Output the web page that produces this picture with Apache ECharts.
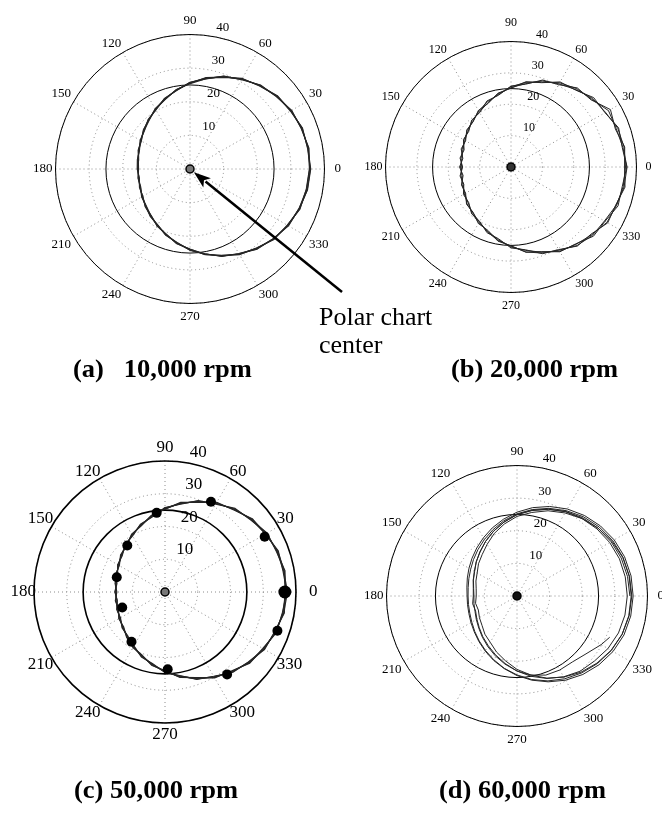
<!DOCTYPE html>
<html><head><meta charset="utf-8">
<script src="https://cdn.jsdelivr.net/npm/echarts@6/dist/echarts.min.js"></script>
<style>html,body{margin:0;padding:0;background:#fff}#c{width:662px;height:815px}</style>
</head><body><div id="c"></div>
<script>
// ---- tick labels ----
const ANGLE_TICKS = ['0','30','60','90','120','150','180','210','240','270','300','330'];
const RADIUS_TICKS = ['10','20','30','40'];
const REF_CIRCLE = 25;          // solid reference circle value
const R_MAX = 40;

// ---- sample angles (degrees) ----
const ANGLES = [0,10,20,30,40,50,60,70,80,90,100,110,120,130,140,150,160,170,
                180,190,200,210,220,230,240,250,260,270,280,290,300,310,320,330,340,350];
const ANGLES_D5 = [0,10,20,30,40,50,60,70,80,90,100,110,120,130,140,150,160,170,
                180,190,200,210,220,230,240,250,260,270,280,290,300,310,320,330,336];

// ---- (a) 10,000 rpm ----
const a1 = [35.9,35.6,35.5,34.6,33.9,32.3,31.0,29.1,27.6,25.5,23.9,22.0,20.7,19.0,18.1,16.8,16.4,15.6,15.3,15.7,15.7,16.6,17.1,18.4,19.3,21.0,22.3,24.2,25.6,27.7,29.1,31.1,32.3,33.8,34.5,35.5];
const a2 = [35.5,35.9,35.2,34.9,33.5,32.6,30.7,29.4,27.2,25.8,23.6,22.3,20.3,19.3,17.7,17.1,16.0,15.9,15.7,15.3,16.0,16.2,17.4,18.0,19.6,20.6,22.6,23.8,25.9,27.3,29.4,30.7,32.6,33.4,34.8,35.1];
const a3 = [35.8,35.5,35.6,34.5,33.8,32.2,31.1,29.0,27.5,25.7,23.7,22.2,20.4,19.2,18.0,16.7,16.3,15.5,15.6,15.4,15.9,16.3,17.3,18.3,19.2,20.9,22.2,24.1,25.8,27.4,29.3,30.8,32.5,33.5,34.7,35.4];
const a4 = [35.6,35.8,35.3,34.8,33.6,32.5,30.8,29.3,27.3,25.4,23.9,21.9,20.6,18.9,17.8,17.0,16.1,15.8,15.4,15.6,15.6,16.5,17.0,18.1,19.5,20.7,22.5,23.9,25.6,27.6,29.0,31.0,32.3,33.7,34.5,35.2];

// ---- (b) 20,000 rpm ----
const b1 = [36.9,36.0,36.5,34.6,34.4,32.0,31.3,28.6,27.6,25.1,23.9,21.5,20.8,18.8,18.4,16.7,16.9,15.6,16.4,15.5,16.8,16.7,18.5,18.8,20.8,21.5,24.0,25.1,27.6,28.7,31.2,32.0,34.3,34.6,36.3,36.0];
const b2 = [36.2,36.8,35.4,36.6,33.3,32.9,30.3,29.5,26.8,25.8,23.2,22.4,20.0,19.5,17.6,17.5,15.9,16.5,15.4,16.5,16.0,17.5,17.6,19.5,20.0,22.3,23.2,25.8,26.8,29.4,30.4,32.9,33.3,35.6,35.5,36.9];
const b3 = [37.0,36.2,35.7,35.9,33.6,32.6,31.0,28.8,27.4,25.6,23.4,22.1,20.6,18.9,18.2,16.9,16.6,15.8,16.1,15.8,16.6,16.9,18.3,19.0,20.2,22.0,23.8,25.2,27.5,29.2,30.6,32.7,33.9,34.4,35.7,36.6];
const b4 = [36.5,36.6,36.2,34.8,34.0,32.2,30.6,29.2,27.0,25.3,23.7,21.7,20.2,19.3,17.8,17.3,16.2,16.2,15.7,16.2,16.2,17.2,17.8,19.3,20.5,21.8,23.5,25.5,27.0,28.9,31.0,32.2,33.6,35.3,35.8,36.3];

// ---- (c) 50,000 rpm ----
const c1 = [37.2,36.6,36.8,35.4,34.8,32.7,31.6,29.1,27.8,25.3,23.8,21.4,20.4,18.3,17.7,16.1,16.0,14.9,15.3,14.8,15.7,15.7,17.1,17.6,19.6,20.5,22.8,24.0,26.5,27.8,30.3,31.5,33.8,34.5,36.2,36.4];
const c2 = [36.7,37.2,36.2,36.0,34.2,33.3,31.0,29.7,27.2,25.8,23.2,22.0,19.8,18.9,17.1,16.7,15.4,15.5,14.7,15.4,15.1,16.3,16.5,18.2,19.0,21.1,22.2,24.6,25.9,28.4,29.7,32.1,33.2,35.1,35.6,37.0];
const c3 = [37.4,36.8,36.4,35.8,34.6,32.9,31.4,29.3,27.6,25.4,23.6,21.6,20.2,18.5,17.5,16.3,15.8,15.1,15.2,14.9,15.5,15.9,16.9,17.8,19.4,20.7,22.6,24.2,26.3,28.0,30.1,31.7,33.6,34.9,35.8,36.8];
const c4 = [36.8,37.0,36.6,35.5,34.4,33.1,31.2,29.5,27.4,25.6,23.4,21.8,20.0,18.7,17.3,16.5,15.6,15.3,14.9,15.2,15.3,16.1,16.7,18.0,19.2,20.9,22.4,24.4,26.1,28.2,29.9,31.9,33.4,34.7,36.0,36.6];
const cMarkR   = [36.6,34.8,30.9,24.3,18.3,15.4,13.9,18.3,23.6,31.5,36.3];
const cMarkAng = [0,29,63,96,129,163,200,236,272,307,341];

// ---- (d) 60,000 rpm ----
const d1 = [35.6,35.5,35.1,34.4,33.4,32.2,30.8,29.2,27.5,25.7,23.9,22.2,20.6,19.2,18.0,17.0,16.2,15.6,15.3,15.4,15.7,16.3,17.1,18.2,19.5,21.0,22.6,24.4,26.2,28.0,29.8,31.4,32.8,34.0,34.9,35.4];
const d2 = [35.2,35.0,34.5,33.6,32.4,31.0,29.4,27.8,26.0,24.4,22.4,20.4,18.3,16.6,15.4,14.1,13.4,12.7,12.5,12.9,12.6,13.3,14.0,15.3,16.4,18.3,20.2,22.5,24.6,26.8,28.7,30.5,32.0,33.3,34.3,34.9];
const d3 = [33.8,33.7,33.4,32.8,32.0,31.0,29.8,28.3,26.7,25.0,23.0,21.1,19.3,17.6,16.3,15.0,14.3,13.6,13.4,13.8,13.5,14.2,15.1,16.3,17.6,19.2,21.0,23.0,25.0,26.9,28.6,30.1,31.0,32.2,33.1,33.6];
const d4 = [35.0,34.9,34.6,33.9,32.9,31.7,30.2,28.6,26.9,25.2,23.4,21.6,20.0,18.6,17.4,16.4,15.7,15.2,15.0,15.1,15.4,16.0,16.9,18.0,19.3,20.8,22.5,24.2,26.0,27.7,29.3,30.8,32.2,33.4,34.3,34.8];
const d5 = [34.6,34.4,34.0,33.3,32.4,31.3,29.9,28.3,26.6,24.9,23.0,21.1,19.3,17.7,16.3,15.1,14.2,13.5,13.2,13.4,13.7,14.4,15.3,16.5,17.9,19.5,21.2,23.0,24.6,25.8,26.2,26.4,27.6,29.8,31.1];

// ---- titles ----
const TITLES = ['(a)   10,000 rpm','(b) 20,000 rpm','(c) 50,000 rpm','(d) 60,000 rpm'];

// ---- layout (positions/sizes/styles only) ----
const PANELS = [
  {cx:190, cy:169, R:134.5, fs:13, m:3,  pad:{p0:7, p90:4,  p270:4}, shift:[25,3], lw:1.15, ow:1,
   traces:[a1,a2,a3,a4], center:'#777', title:[73,371]},
  {cx:511, cy:167, R:125.5, fs:12, m:3,  pad:{p0:6, p90:10, p270:4}, shift:[24,4], lw:1, ow:1,
   traces:[b1,b2,b3,b4], center:'#333', title:[451,371]},
  {cx:165, cy:592, R:131,   fs:17, m:-2, pad:{p0:15,p90:7,  p270:5}, shift:[28,2], lw:1.2, ow:1.6,
   traces:[c1,c2,c3,c4], center:'#777', title:[74,792]},
  {cx:517, cy:596, R:130.5, fs:13, m:3,  pad:{p0:7, p90:4,  p270:4}, shift:[25,4], lw:1, ow:1,
   traces:[d1,d2,d3,d4], center:'#111', title:[439,792]}
];
const FONT = '"Liberation Serif","Times New Roman",serif';

function toPairs(vals, angs, close){
  const out = vals.map((v,i)=>[v, angs[i]]);
  if (close) out.push([vals[0], 360]);
  return out;
}

const polar=[], angleAxis=[], radiusAxis=[], series=[];
PANELS.forEach((p, k) => {
  const base = polar.length;
  // main polar grid
  polar.push({center:[p.cx, p.cy], radius:p.R});
  angleAxis.push({polarIndex:base, type:'value', min:0, max:360, interval:30, startAngle:0, clockwise:false,
    axisLine:{show:true, lineStyle:{color:'#000', width:p.ow}},
    axisTick:{show:false},
    axisLabel:{show:true, margin:p.m, color:'#000', fontFamily:FONT, fontSize:p.fs,
      formatter:(v)=> {
        const s = String(v);
        if (ANGLE_TICKS.indexOf(s) < 0) return '';
        if (s==='0') return '{p0|0}';
        if (s==='90') return '{p90|90}';
        if (s==='270') return '{p270|270}';
        return s;
      },
      rich:{
        p0:{padding:[0,0,0,p.pad.p0], fontFamily:FONT, fontSize:p.fs, color:'#000'},
        p90:{padding:[0,0,p.pad.p90,0], fontFamily:FONT, fontSize:p.fs, color:'#000'},
        p270:{padding:[p.pad.p270,0,0,0], fontFamily:FONT, fontSize:p.fs, color:'#000'}
      }},
    splitLine:{show:true, lineStyle:{color:'#8c8c8c', width:1, type:[1,3]}}
  });
  radiusAxis.push({polarIndex:base, type:'value', min:0, max:R_MAX, interval:10,
    axisLine:{show:false}, axisTick:{show:false}, axisLabel:{show:false},
    splitLine:{show:true, lineStyle:{color:'#8c8c8c', width:1, type:[1,3]}}
  });
  // reference circle
  polar.push({center:[p.cx, p.cy], radius:p.R*REF_CIRCLE/R_MAX});
  angleAxis.push({polarIndex:base+1, type:'value', min:0, max:360, startAngle:0,
    axisLine:{show:true, lineStyle:{color:'#000', width:p.ow}}, axisTick:{show:false},
    axisLabel:{show:false}, splitLine:{show:false}});
  radiusAxis.push({polarIndex:base+1, type:'value', min:0, max:REF_CIRCLE, show:false});
  // radius labels overlay (along ~82 deg)
  const off = 11;
  polar.push({center:[p.cx + p.shift[0], p.cy + p.shift[1]], radius:[off, p.R+off]});
  angleAxis.push({polarIndex:base+2, type:'value', min:0, max:360, startAngle:82, show:false});
  radiusAxis.push({polarIndex:base+2, type:'value', min:0, max:R_MAX, interval:10,
    axisLine:{show:false}, axisTick:{show:false}, splitLine:{show:false},
    axisLabel:{show:true, margin:6, showMinLabel:false, color:'#000', fontFamily:FONT, fontSize:p.fs,
      formatter:(v)=> RADIUS_TICKS.indexOf(String(v))>=0 ? String(v) : ''}
  });

  p.traces.forEach(tr => {
    series.push({type:'line', coordinateSystem:'polar', polarIndex:base, data:toPairs(tr, ANGLES, true),
      showSymbol:false, symbol:'none', smooth:false, silent:true, z:3,
      lineStyle:{color:'#262626', width:p.lw}});
  });
  if (k===3) {
    series.push({type:'line', coordinateSystem:'polar', polarIndex:base, data:toPairs(d5, ANGLES_D5, false),
      showSymbol:false, symbol:'none', smooth:false, silent:true, z:3,
      lineStyle:{color:'#262626', width:p.lw}});
  }
  if (k===2) {
    series.push({type:'scatter', coordinateSystem:'polar', polarIndex:base,
      data:cMarkR.map((r,i)=>[r, cMarkAng[i]]), symbol:'circle',
      symbolSize:(v, prm)=> prm.dataIndex===0 ? 13 : 10, z:5,
      itemStyle:{color:'#000', opacity:1}});
  }
  series.push({type:'scatter', coordinateSystem:'polar', polarIndex:base, data:[[0,0]],
    symbol:'circle', symbolSize:8, z:6, itemStyle:{color:p.center, opacity:1, borderColor:'#000', borderWidth:1.5}});
});

const chart = echarts.init(document.getElementById('c'), null, {renderer:'canvas'});
chart.setOption({animation:false, backgroundColor:'#fff', polar, angleAxis, radiusAxis, series});

// annotation: arrow to the centre of panel (a), titles
const ctr = chart.convertToPixel({seriesIndex: PANELS[0].traces.length}, [0,0]) || [PANELS[0].cx, PANELS[0].cy];
const tail = [342, 292];
const dx = ctr[0]-tail[0], dy = ctr[1]-tail[1], L = Math.hypot(dx,dy);
const ux = dx/L, uy = dy/L;
const tip = [ctr[0]-ux*5, ctr[1]-uy*5];
const hl = 17, hw = 6;
const bx = tip[0]-ux*hl, by = tip[1]-uy*hl;
const graphic = [
  {type:'line', shape:{x1:tail[0], y1:tail[1], x2:bx+ux*2, y2:by+uy*2}, style:{stroke:'#000', lineWidth:2.5}, z:10},
  {type:'polygon', shape:{points:[tip,[bx-uy*hw, by+ux*hw],[bx+ux*4, by+uy*4],[bx+uy*hw, by-ux*hw]]}, style:{fill:'#000'}, z:10},
  {type:'text', x:319, y:318, style:{text:'Polar chart', font:'26px '+FONT, fill:'#000', verticalAlign:'middle'}, z:10},
  {type:'text', x:319, y:346, style:{text:'center', font:'26px '+FONT, fill:'#000', verticalAlign:'middle'}, z:10}
];
PANELS.forEach((p,i)=>{
  graphic.push({type:'text', x:p.title[0], y:p.title[1], scaleX:1.06,
    style:{text:TITLES[i], font:'bold 25px '+FONT, fill:'#000', verticalAlign:'middle'}, z:10});
});
chart.setOption({graphic});
</script>
</body></html>
